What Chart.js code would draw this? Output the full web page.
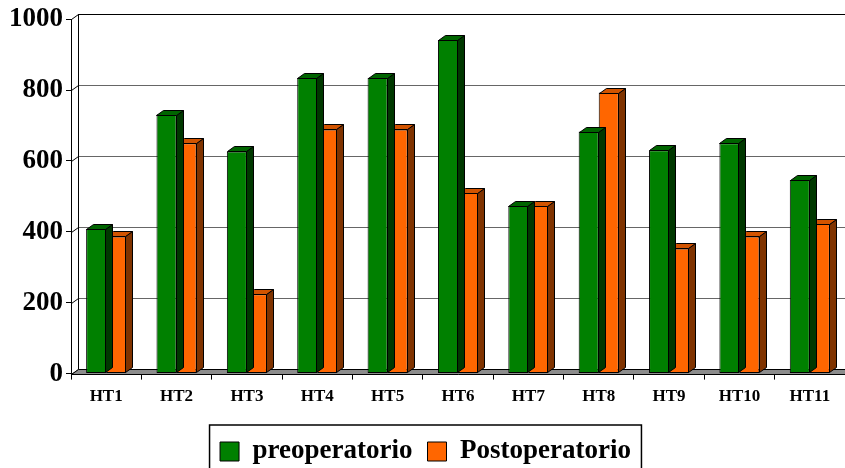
<!DOCTYPE html>
<html>
<head>
<meta charset="utf-8">
<script src="https://cdn.jsdelivr.net/npm/chart.js@4.4.0/dist/chart.umd.min.js"></script>
<style>
  html, body { margin: 0; padding: 0; background: #fff; }
  #wrap { width: 845px; height: 468px; }
</style>
</head>
<body>
<div id="wrap"><canvas id="chart"></canvas></div>
<script>
// values
const labels = ['HT1', 'HT2', 'HT3', 'HT4', 'HT5', 'HT6', 'HT7', 'HT8', 'HT9', 'HT10', 'HT11'];
const preoperatorio = [409, 731, 627, 835, 835, 941, 473, 683, 630, 650, 546];
const postoperatorio = [387, 650, 224, 689, 689, 510, 473, 793, 353, 387, 423];
const yTicks = [0, 200, 400, 600, 800, 1000];

const DX = 7; // depth offset to the right
const DY = 5; // depth offset upwards
const serif = "'Liberation Serif', 'Times New Roman', serif";

// shaded faces for each series
const faces = [
  { top: '#006400', side: '#003800' },
  { top: '#d25400', side: '#7f3300' },
];

function poly(ctx, pts, fill) {
  ctx.beginPath();
  ctx.moveTo(pts[0][0], pts[0][1]);
  for (let i = 1; i < pts.length; i++) ctx.lineTo(pts[i][0], pts[i][1]);
  ctx.closePath();
  ctx.fillStyle = fill;
  ctx.fill();
  ctx.stroke();
}

// back wall, grid and floor
const wallPlugin = {
  id: 'wall',
  beforeDatasetsDraw(chart) {
    const { ctx, chartArea } = chart;
    const y = chart.scales.y;
    const left = chartArea.left;
    const right = chartArea.right + 10;
    const base = y.getPixelForValue(0);
    const top = y.getPixelForValue(1000);
    ctx.save();
    ctx.lineWidth = 1;
    // grid lines on the back wall
    yTicks.forEach((v) => {
      const py = Math.round(y.getPixelForValue(v) - DY) + 0.5;
      ctx.strokeStyle = v === 1000 ? '#000' : '#666';
      ctx.beginPath();
      ctx.moveTo(left + DX, py);
      ctx.lineTo(right, py);
      ctx.stroke();
      // diagonal on the side wall
      ctx.strokeStyle = '#000';
      ctx.beginPath();
      ctx.moveTo(left + 0.5, Math.round(y.getPixelForValue(v)) + 0.5);
      ctx.lineTo(left + DX + 0.5, py);
      ctx.stroke();
    });
    // back wall left edge
    ctx.strokeStyle = '#000';
    ctx.beginPath();
    ctx.moveTo(left + DX + 0.5, Math.round(top - DY) + 0.5);
    ctx.lineTo(left + DX + 0.5, Math.round(base - DY) + 0.5);
    ctx.stroke();
    // floor
    const fb = Math.round(base) + 0.5;
    poly(ctx, [[left + 0.5, fb], [left + DX + 0.5, fb - DY], [right, fb - DY], [right, fb]], '#8c8c8c');
    ctx.restore();
  },
  afterDatasetDraw(chart, args) {
    const { ctx } = chart;
    const meta = args.meta;
    const f = faces[args.index];
    ctx.save();
    ctx.strokeStyle = '#000';
    ctx.lineWidth = 1;
    meta.data.forEach((bar) => {
      const p = bar.getProps(['x', 'y', 'base', 'width'], true);
      const l = Math.round(p.x - p.width / 2) + 0.5;
      const r = Math.round(p.x + p.width / 2) - 0.5;
      const t = Math.round(p.y) + 0.5;
      const b = Math.round(p.base) - 0.5;
      poly(ctx, [[r, t], [r + DX, t - DY], [r + DX, b - DY], [r, b]], f.side);
      poly(ctx, [[l, t], [l + DX, t - DY], [r + DX, t - DY], [r, t]], f.top);
    });
    ctx.restore();
  },
  afterDraw(chart) {
    const lg = chart.legend;
    if (!lg || !lg.legendHitBoxes.length) return;
    const boxes = lg.legendHitBoxes;
    const first = boxes[0];
    const last = boxes[boxes.length - 1];
    const { ctx } = chart;
    ctx.save();
    ctx.strokeStyle = '#000';
    ctx.lineWidth = 1.5;
    ctx.strokeRect(first.left - 10.5, first.top - 13, last.left + last.width - first.left + 21, 60);
    ctx.restore();
  },
};

new Chart(document.getElementById('chart'), {
  type: 'bar',
  data: {
    labels,
    datasets: [
      {
        label: 'preoperatorio',
        data: preoperatorio,
        backgroundColor: '#008000',
        borderColor: '#000',
        borderWidth: 1,
        borderSkipped: false,
      },
      {
        label: 'Postoperatorio',
        data: postoperatorio,
        backgroundColor: '#ff6600',
        borderColor: '#000',
        borderWidth: 1,
        borderSkipped: false,
      },
    ],
  },
  options: {
    responsive: true,
    maintainAspectRatio: false,
    animation: false,
    events: [],
    layout: { padding: { left: 6, right: 0, top: -4, bottom: -7 } },
    datasets: {
      bar: { categoryPercentage: 0.57, barPercentage: 1 },
    },
    scales: {
      x: {
        grid: { display: true, drawOnChartArea: false, drawTicks: true, tickLength: 6, color: '#000', offset: true },
        border: { display: true, color: '#000', width: 1 },
        ticks: { color: '#000', padding: 7, font: { family: serif, size: 17, weight: 'bold' }, maxRotation: 0 },
        afterFit(scale) {
          scale.height += 9;
        },
      },
      y: {
        min: 0,
        max: 1000,
        afterBuildTicks(scale) {
          scale.ticks = yTicks.map((v) => ({ value: v }));
        },
        grid: { display: true, drawOnChartArea: false, drawTicks: true, tickLength: 5, color: '#000' },
        border: { display: true, color: '#000', width: 1 },
        ticks: {
          color: '#000',
          padding: 3,
          font: { family: serif, size: 27, weight: 'bold' },
          callback: (v) => String(v),
        },
      },
    },
    plugins: {
      tooltip: { enabled: false },
      legend: {
        display: true,
        position: 'bottom',
        labels: {
          color: '#000',
          boxWidth: 19,
          boxHeight: 19,
          padding: 15,
          font: { family: serif, size: 27, weight: 'bold' },
          generateLabels(chart) {
            return chart.data.datasets.map((ds, i) => ({
              text: ds.label,
              fillStyle: ds.backgroundColor,
              strokeStyle: '#000',
              lineWidth: 1,
              datasetIndex: i,
              fontColor: '#000',
            }));
          },
        },
      },
    },
  },
  plugins: [wallPlugin],
});
</script>
</body>
</html>
